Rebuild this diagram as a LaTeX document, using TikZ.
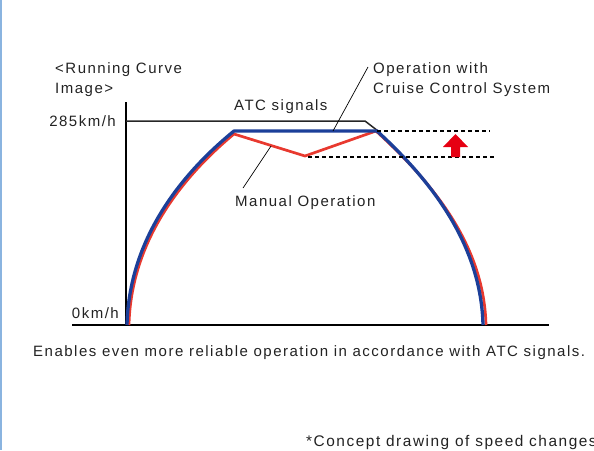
\documentclass[tikz,border=0pt]{standalone}
\usepackage{fontspec}
\setmainfont{Liberation Sans}[LetterSpace=10]
\usepackage{xcolor}
\usetikzlibrary{calc}
\definecolor{cruiseblue}{HTML}{1C3F99}
\definecolor{manualred}{HTML}{E8392F}
\definecolor{arrowred}{HTML}{E60012}
\definecolor{edgeblue}{HTML}{8AB4E0}
\definecolor{inkgray}{HTML}{222222}

\begin{document}
\begin{tikzpicture}[
  x=1pt, y=-1pt,
  every node/.style={font=\fontsize{15}{20}\selectfont, text=inkgray, inner sep=0pt},
  axis/.style={draw=black, line width=1.7pt},
  atcline/.style={draw=black!85, line width=1.5pt},
  cruise/.style={draw=cruiseblue, line width=3.3pt, line join=round},
  manual/.style={draw=manualred, line width=2.7pt, line join=round},
  level/.style={draw=black, line width=1.1pt, dash pattern=on 4pt off 3pt},
  leader/.style={draw=black, line width=0.7pt},
]
\useasboundingbox (0,0) rectangle (594,450);
\draw[edgeblue, line width=2pt] (1,0) -- (1,450);

% Labels
\node[anchor=base west, align=left] (title) at (55,93) {<Running Curve\\Image>};
\node[anchor=base west, align=left] (ccs) at (373,93) {Operation with\\Cruise Control System};
\node[anchor=base west] (atc) at (234,110) {ATC signals};
\node[anchor=base east] (vmax) at (116,126) {285km/h};
\node[anchor=base east] (vzero) at (119,318) {0km/h};
\node[anchor=base west] (man) at (235,206) {Manual Operation};
\node[anchor=base west] (note) at (33,356) {Enables even more reliable operation in accordance with ATC signals.};
\node[anchor=base west, font=\fontsize{15.4}{20}\selectfont] (concept) at (306,446) {*Concept drawing of speed changes};

% Axes
\coordinate (origin) at (126,325);
\draw[axis] (126,102) -- (origin);
\draw[axis] (72,325) -- (549,325);

% ATC signal limit
\draw[atcline] (126,121) -- (365,121) -- (378,131);

% Running curves
\draw[manual] (129,325) .. controls (131,242) and (181,178) .. (234,134)
  -- (305,156) coordinate (dip) -- (376,131)
  .. controls (426,177) and (484,240) .. (486,325);
\draw[cruise] (127,325) .. controls (129,240) and (180,175) .. (234,131)
  -- (377,131) coordinate (top) .. controls (425,175) and (481,240) .. (483,325);

% Speed gap
\draw[level] (top) -- (490,131);
\draw[level] (308,157) -- (494,157);
\fill[arrowred] (451,157) -- (451,147) -- (443,147) -- (455.5,134)
  -- (468,147) -- (460,147) -- (460,157) -- cycle;

% Leaders
\coordinate (ccspt) at (333,131);
\coordinate (manpt) at (271,146);
\draw[leader] ([shift={(-5,-26)}]ccs.base west) -- (ccspt);
\draw[leader] ([shift={(8,-18)}]man.base west) -- (manpt);
\end{tikzpicture}
\end{document}
